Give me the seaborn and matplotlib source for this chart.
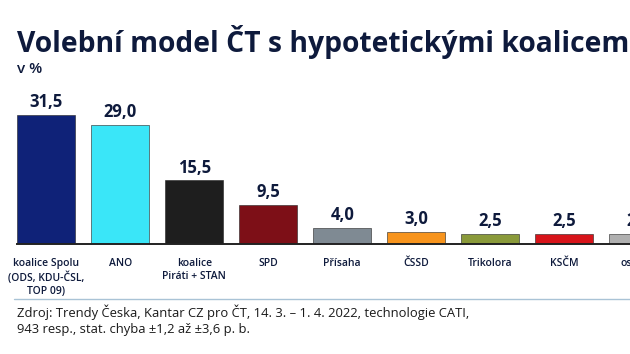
import matplotlib
matplotlib.use('Agg')
import matplotlib.pyplot as plt
import seaborn as sns
import pandas as pd

# ── Data ─────────────────────────────────────────────────────────────────────
PARTIES = ['koalice Spolu\n(ODS, KDU-ČSL,\nTOP 09)', 'ANO', 'koalice\nPiráti + STAN',
           'SPD', 'Přísaha', 'ČSSD', 'Trikolora', 'KSČM', 'ostatní']
VALUES  = [31.5, 29.0, 15.5, 9.5, 4.0, 3.0, 2.5, 2.5, 2.5]
COLORS  = ['#0f2278', '#3ae6f8', '#1e1e1e', '#7d0f17', '#7f8a93',
           '#f7941d', '#8a9a3a', '#d7141a', '#b0b0b0']

TITLE  = 'Volební model ČT s hypotetickými koalicemi'
UNIT   = 'v %'
SOURCE = ('Zdroj: Trendy Česka, Kantar CZ pro ČT, 14. 3. – 1. 4. 2022, technologie CATI,\n'
          '943 resp., stat. chyba ±1,2 až ±3,6 p. b.')

NAVY = '#0e1a3c'

sns.set_style('white')
plt.rcParams['font.family'] = ['Open Sans', 'DejaVu Sans']

df = pd.DataFrame({'party': PARTIES, 'value': VALUES})

W, H = 630, 354
fig = plt.figure(figsize=(W / 100, H / 100), dpi=100)

# axes extends past the right edge, like the cropped original
x0, x1 = -0.395, 8.6
step = 74
ax = fig.add_axes([17 / W, 110 / H, (x1 - x0) * step / W, 35 * 4.1 / H])

sns.barplot(data=df, x='party', y='value', hue='party', palette=COLORS,
            legend=False, width=0.79, saturation=1, edgecolor='#222222',
            linewidth=0.4, ax=ax)
ax.set_xlim(x0, x1)
ax.set_ylim(0, 35)
ax.set_xlabel(''); ax.set_ylabel('')
ax.set_yticks([])
for s in ['top', 'right', 'left']:
    ax.spines[s].set_visible(False)
ax.spines['bottom'].set_color('#222222')
ax.spines['bottom'].set_linewidth(1.4)
ax.tick_params(axis='x', length=0, pad=10)
for lbl in ax.get_xticklabels():
    lbl.set_fontsize(7.5)
    lbl.set_fontweight('semibold')
    lbl.set_color(NAVY)
    lbl.set_va('top')
    lbl.set_linespacing(1.25)

for i, v in enumerate(VALUES):
    ax.text(i, v + 0.9, f'{v:.1f}'.replace('.', ','), ha='center', va='bottom',
            fontsize=12, fontweight='bold', color=NAVY)

fig.text(17 / W, 1 - 25 / H, TITLE, ha='left', va='top', fontsize=20.3,
         fontweight='bold', color=NAVY)
fig.text(17 / W, 1 - 62 / H, UNIT, ha='left', va='top', fontsize=11,
         fontweight='semibold', color=NAVY)

fig.add_artist(plt.Line2D([14 / W, 1.0], [1 - 299 / H, 1 - 299 / H],
                          color='#a9c3d6', linewidth=1.0))
fig.text(17 / W, 1 - 304 / H, SOURCE, ha='left', va='top', fontsize=9.4,
         color='#1a1a1a', linespacing=1.4)

fig.savefig('out.png', dpi=100)
